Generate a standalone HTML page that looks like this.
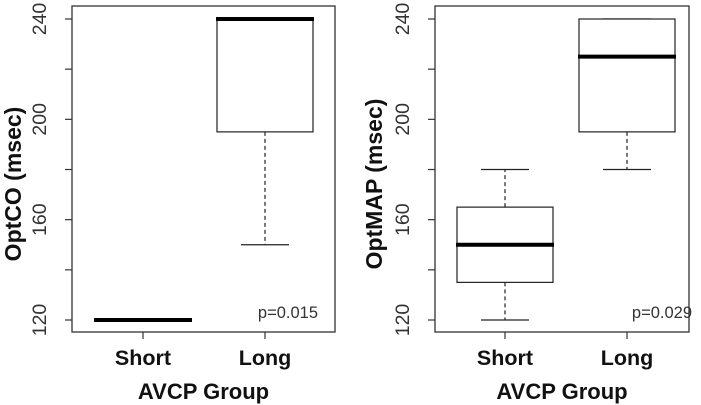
<!DOCTYPE html>
<html><head><meta charset="utf-8"><style>
html,body{margin:0;padding:0;background:#fff;}
svg{display:block;font-family:"Liberation Sans",Arial,sans-serif;}
</style></head><body>
<svg id="chart" width="701" height="405" viewBox="0 0 701 405"></svg>
<script>
const categories = ["Short","Long"];
const yTicks = [120,140,160,180,200,220,240];
const yTickLabels = ["120","","160","","200","","240"];
const optcoMin = [120,150];
const optcoQ1 = [120,195];
const optcoMed = [120,240];
const optcoQ3 = [120,240];
const optcoMax = [120,240];
const optmapMin = [120,180];
const optmapQ1 = [135,195];
const optmapMed = [150,225];
const optmapQ3 = [165,240];
const optmapMax = [180,240];
const pLabels = ["p=0.015","p=0.029"];
const yTitles = ["OptCO (msec)","OptMAP (msec)"];

const NS="http://www.w3.org/2000/svg";
const svg=document.getElementById('chart');
function mk(tag,attrs,parent){const e=document.createElementNS(NS,tag);for(const k in attrs)e.setAttribute(k,attrs[k]);(parent||svg).appendChild(e);return e;}

const panels=[
 {x0:72,x1:335,cx:[143,265],tickLx:40,titleX:13,pX:318,mn:optcoMin,q1:optcoQ1,md:optcoMed,q3:optcoQ3,mx:optcoMax},
 {x0:435,x1:689,cx:[505,627],tickLx:403,titleX:374,pX:692,mn:optmapMin,q1:optmapQ1,md:optmapMed,q3:optmapQ3,mx:optmapMax}
];
const yTop=6,yBot=332;
function y(v){return 320+(120-v)*(301/120);}

panels.forEach((p,pi)=>{
  const g=mk('g',{});
  
  
  const frame=mk('rect',{x:p.x0,y:yTop,width:p.x1-p.x0,height:yBot-yTop,fill:'none',stroke:'#333','stroke-width':1.3},g);
  
  
  yTicks.forEach((t,i)=>{
    const tk=mk('line',{x1:p.x0-7,x2:p.x0,y1:y(t),y2:y(t),stroke:'#333','stroke-width':1.2},g);
    
    
    if(yTickLabels[i]){
      const tl=mk('text',{x:p.tickLx,y:y(t),'font-size':19.5,fill:'#333','text-anchor':'middle','dominant-baseline':'central',transform:`rotate(-90 ${p.tickLx} ${y(t)})`},g);
      tl.textContent=yTickLabels[i];
      
      
    }
  });
  const yt=mk('text',{x:p.titleX,y:184,'font-size':23,'font-weight':'bold',fill:'#111','text-anchor':'middle','dominant-baseline':'central',transform:`rotate(-90 ${p.titleX} 184)`},g);
  yt.textContent=yTitles[pi];
  
  
  categories.forEach((c,i)=>{
    const cx=p.cx[i];
    const xt=mk('line',{x1:cx,x2:cx,y1:yBot,y2:yBot+7,stroke:'#333','stroke-width':1.2},g);
    
    
    const xl=mk('text',{x:cx,y:365,'font-size':21.5,'font-weight':'bold',fill:'#111','text-anchor':'middle'},g);
    xl.textContent=c;
    
    
    const b=mk('g',{},g);
    
    
    const hw=48,cw=24;
    mk('line',{x1:cx,x2:cx,y1:y(p.q3[i]),y2:y(p.mx[i]),stroke:'#222','stroke-width':1.2,'stroke-dasharray':'4 3'},b);
    mk('line',{x1:cx,x2:cx,y1:y(p.q1[i]),y2:y(p.mn[i]),stroke:'#222','stroke-width':1.2,'stroke-dasharray':'4 3'},b);
    mk('line',{x1:cx-cw,x2:cx+cw,y1:y(p.mx[i]),y2:y(p.mx[i]),stroke:'#222','stroke-width':1.2},b);
    mk('line',{x1:cx-cw,x2:cx+cw,y1:y(p.mn[i]),y2:y(p.mn[i]),stroke:'#222','stroke-width':1.2},b);
    mk('rect',{x:cx-hw,y:y(p.q3[i]),width:hw*2,height:y(p.q1[i])-y(p.q3[i]),fill:'#fff',stroke:'#222','stroke-width':1.2},b);
    mk('line',{x1:cx-hw-1,x2:cx+hw+1,y1:y(p.md[i]),y2:y(p.md[i]),stroke:'#000','stroke-width':4},b);
  });
  const pt=mk('text',{x:p.pX,y:318,'font-size':16.5,fill:'#333','text-anchor':'end'},g);
  pt.textContent=pLabels[pi];
  
  
  const xt=mk('text',{x:(p.x0+p.x1)/2,y:399,'font-size':22,'font-weight':'bold',fill:'#111','text-anchor':'middle'},g);
  xt.textContent='AVCP Group';
  
  
});
</script>
</body></html>
